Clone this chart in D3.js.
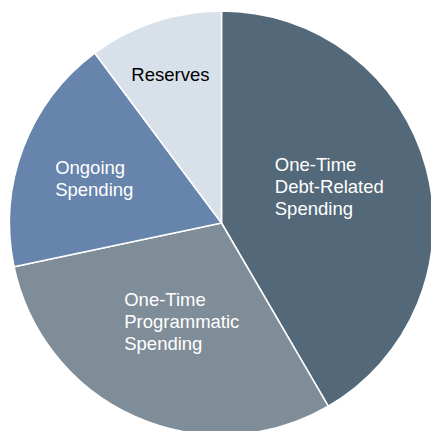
<!DOCTYPE html>
<html>
<head>
<meta charset="utf-8">
<script src="https://cdn.jsdelivr.net/npm/d3@7"></script>
<style>
  html, body { margin: 0; padding: 0; background: #fff; }
  svg { display: block; font-family: "Liberation Sans", Arial, sans-serif; }
</style>
</head>
<body>
<div id="chart"></div>
<script>
// slice data, clockwise from 12 o'clock
const categories = ["One-Time Debt-Related Spending", "One-Time Programmatic Spending", "Ongoing Spending", "Reserves"];
const labelLines = [["One-Time", "Debt-Related", "Spending"], ["One-Time", "Programmatic", "Spending"], ["Ongoing", "Spending"], ["Reserves"]];
const shares = [41.6, 30.1, 18.1, 10.2];
const colors = ["#536879", "#7f8d99", "#6684ac", "#d8e0ea"];
const textColors = ["#fff", "#fff", "#fff", "#000"];

const width = 431, height = 431;
const cx = 221.5, cy = 223, radius = 212;

// label block centres (polar, degrees clockwise from top)
const labelAngle = [71, 202, 289.5, 341];
const labelRadius = [114, 106, 135, 157];
const fontSize = 18.5, lineH = 22, capH = fontSize * 0.716;

const svg = d3.select("#chart").append("svg")
  .attr("width", width)
  .attr("height", height);

const g = svg.append("g").attr("transform", `translate(${cx},${cy})`);

const data = categories.map((c, i) => ({ name: c, value: shares[i], i: i }));

const pie = d3.pie().value(d => d.value).sort(null);
const arc = d3.arc().innerRadius(0).outerRadius(radius);
const arcs = pie(data);

g.selectAll("path")
  .data(arcs)
  .enter().append("path")
  .attr("d", arc)
  .attr("fill", d => colors[d.data.i])
  .attr("stroke", "#fff")
  .attr("stroke-width", 1.5)
  .attr("stroke-linejoin", "round");

// labels: left-aligned lines, block centred on its anchor
arcs.forEach(d => {
  const i = d.data.i;
  const [lx, ly] = d3.pointRadial(labelAngle[i] * Math.PI / 180, labelRadius[i]);
  const lines = labelLines[i];
  const t = g.append("text")
    .attr("fill", textColors[i])
    .style("font-size", fontSize + "px");
  lines.forEach((s, k) => {
    t.append("tspan")
      .attr("x", 0)
      .attr("y", k * lineH)
      .text(s);
  });
  const w = t.node().getBBox().width;
  const blockH = capH + (lines.length - 1) * lineH;
  t.attr("transform", `translate(${lx - w / 2},${ly - blockH / 2 + capH})`);
});
</script>
</body>
</html>
